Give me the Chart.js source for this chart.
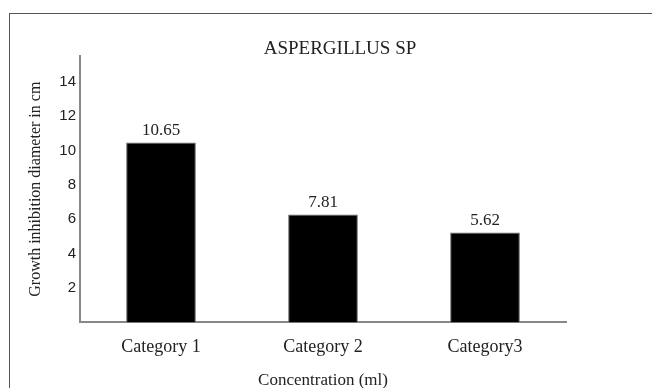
<!DOCTYPE html>
<html>
<head>
<meta charset="utf-8">
<script src="https://cdn.jsdelivr.net/npm/chart.js@4.4.1/dist/chart.umd.min.js"></script>
<style>
  html, body { margin: 0; padding: 0; background: #fff; }
  #wrap { position: relative; width: 652px; height: 388px; overflow: hidden; }
  #frame { position: absolute; left: 9px; top: 13px; width: 800px; height: 600px; border: 1.5px solid #555; box-sizing: border-box; }
  canvas { position: absolute; left: 0; top: 0; }
</style>
</head>
<body>
<div id="wrap">
  <div id="frame"></div>
  <canvas id="c" width="652" height="388"></canvas>
</div>
<script>
const categories = ["Category 1", "Category 2", "Category3"];
const barHeights = [10.47, 6.28, 5.23];
const valueLabels = ["10.65", "7.81", "5.62"];
const yTickValues = [2, 4, 6, 8, 10, 12, 14];
const chartTitle = "ASPERGILLUS SP";
const xTitle = "Concentration (ml)";
const yTitle = "Growth inhibition diameter in cm";

const serif = "'Liberation Serif', 'Times New Roman', serif";

const valueLabelPlugin = {
  id: 'valueLabels',
  afterDatasetsDraw(chart) {
    const ctx = chart.ctx;
    const meta = chart.getDatasetMeta(0);
    ctx.save();
    ctx.font = "17px " + serif;
    ctx.fillStyle = "#222";
    ctx.textAlign = "center";
    ctx.textBaseline = "middle";
    meta.data.forEach((bar, i) => {
      ctx.fillText(valueLabels[i], bar.x, bar.y - 12);
    });
    ctx.restore();
  }
};

new Chart(document.getElementById('c'), {
  type: 'bar',
  data: {
    labels: categories,
    datasets: [{
      data: barHeights,
      backgroundColor: '#000',
      borderColor: '#666',
      borderWidth: 1,
      barPercentage: 0.43,
      categoryPercentage: 1.0,
      yAxisID: 'y'
    }]
  },
  options: {
    responsive: false,
    animation: false,
    layout: { padding: { left: 28, right: 0, top: 0, bottom: 0 } },
    plugins: {
      legend: { display: false },
      tooltip: { enabled: false },
      title: {
        display: true,
        text: chartTitle,
        color: '#222',
        font: { family: serif, size: 19, weight: 'normal', lineHeight: 1 },
        padding: { top: 40, bottom: -3 }
      }
    },
    scales: {
      x: {
        grid: { display: false, drawTicks: false },
        border: { display: true, color: '#888', width: 2 },
        ticks: { color: '#222', font: { family: serif, size: 18, lineHeight: 1.2 }, padding: 14, maxRotation: 0 },
        title: {
          display: true, text: xTitle, color: '#222',
          font: { family: serif, size: 17, lineHeight: 1 },
          padding: { top: 0, bottom: -1 }
        }
      },
      y: {
        position: 'left',
        min: 0, max: 15.5,
        afterBuildTicks(scale) {
          scale.ticks = yTickValues.map(v => ({ value: v }));
        },
        afterFit(scale) { scale.width = 52; },
        grid: { display: false, drawTicks: false },
        border: { display: true, color: '#888', width: 2 },
        ticks: { color: '#222', font: { family: "'Liberation Sans', Arial, sans-serif", size: 15 }, padding: 4 },
        title: {
          display: true, text: yTitle, color: '#222',
          font: { family: serif, size: 16, lineHeight: 1 },
          padding: { top: 0, bottom: 0 }
        }
      },
      yRight: {
        position: 'right',
        min: 0, max: 15.5,
        afterFit(scale) { scale.width = 86; },
        grid: { display: false, drawTicks: false },
        border: { display: false },
        ticks: { display: false }
      }
    }
  },
  plugins: [valueLabelPlugin]
});
</script>
</body>
</html>
